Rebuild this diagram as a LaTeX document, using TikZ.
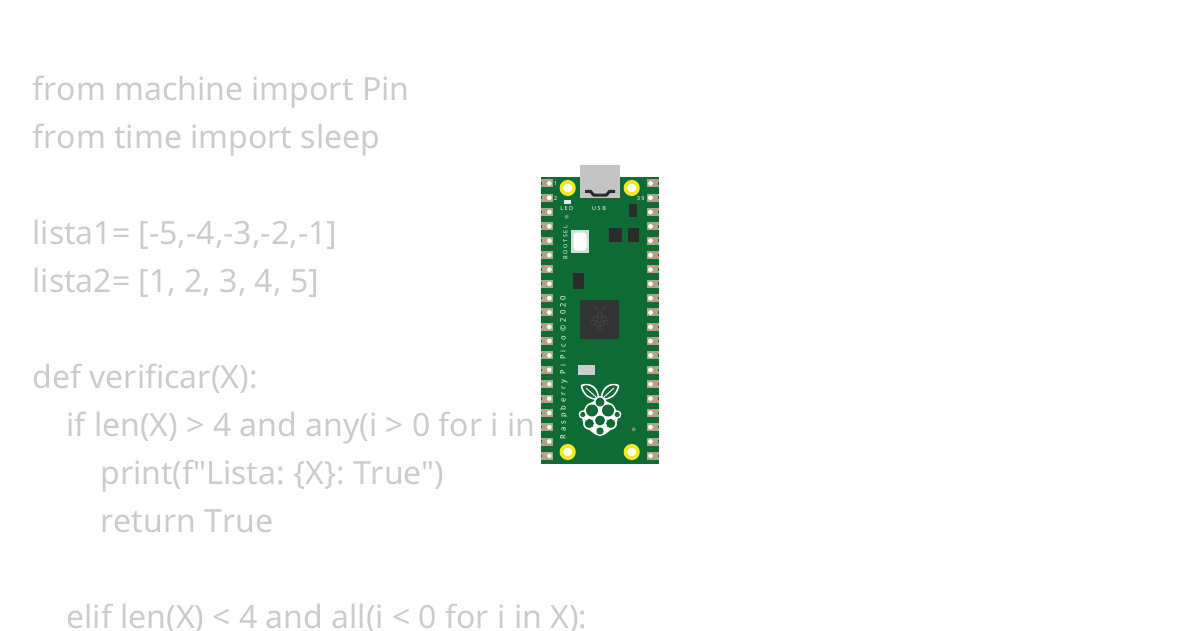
\documentclass[tikz,border=0pt]{standalone}
\usepackage{fontspec}
\setmainfont{Noto Sans}[Ligatures=TeXOff,Kerning=Off]
\definecolor{codegray}{HTML}{CCCCCC}
\definecolor{pcb}{HTML}{0E6B36}
\definecolor{pad}{HTML}{AFA286}
\definecolor{chipdark}{HTML}{2B2B2B}
\definecolor{cpu}{HTML}{333333}
\definecolor{cpulogo}{HTML}{444444}
\definecolor{usbgray}{HTML}{C4C4C4}
\definecolor{testdot}{HTML}{7A8A70}
\definecolor{ringyellow}{HTML}{F2E81E}
\tikzset{
  codeline/.style={anchor=base west,inner sep=0pt,text=codegray,font=\fontsize{32}{32}\selectfont},
  silk/.style={text=white,inner sep=0pt,font=\fontsize{5.5}{5.5}\selectfont},
  chip/.style={fill=chipdark,draw=none},
  mount/.style={circle,fill=white,draw=ringyellow,line width=3.6pt,minimum size=12.5pt,inner sep=0pt},
  pinpad/.style={fill=pad,draw=none},
  leaf/.style={draw=white,line width=1.6pt,fill=pcb,line join=round},
  vein/.style={draw=white,line width=.9pt}
}
\begin{document}
\begin{tikzpicture}[x=1pt,y=-1pt]
\useasboundingbox (0,0) rectangle (1200,630);
\begin{scope}
\clip (0,0) rectangle (1200,630);
\node[codeline] (l1) at (32.3,100) {from machine import Pin};
\node[codeline] (l2) at (32.3,148) {from time import sleep};
\node[codeline] (l3) at (32.3,244) {lista1= [-5,-4,-3,-2,-1]};
\node[codeline] (l4) at (32.3,292) {lista2= [1, 2, 3, 4, 5]};
\node[codeline] (l5) at (32.3,388) {def verificar(X):};
\node[codeline] (l6) at (66.3,436) {if len(X) > 4 and any(i > 0 for i in};
\node[codeline] (l7) at (100.3,484) {print(f"Lista: \kern-3pt\symbol{123}X\symbol{125}: True")};
\node[codeline] (l8) at (100.3,532) {return True};
\node[codeline] (l9) at (66.3,628) {elif len(X) < 4 and all(i < 0 for i in X):};
\end{scope}
% board
\fill[pcb] (540.5,176.5) rectangle (659,464);
% pins
\foreach \i in {0,...,19}{
  \pgfmathsetmacro{\yy}{183.4+14.34*\i}
  \fill[pinpad] (541,\yy-4) rectangle (553,\yy+4);
  \fill[pinpad] (647,\yy-4) rectangle (659,\yy+4);
  \fill[white] (549.3,\yy) circle (2.4);
  \fill[white] (650.5,\yy) circle (2.4);
  \fill[pcb] (540.5,\yy-1.3) rectangle (542,\yy+1.3);
  \fill[pcb] (657.5,\yy-1.3) rectangle (659,\yy+1.3);
}
% USB
\path[fill=usbgray] (580,165) -- (620,165) -- (620,198) -- (580,198) -- cycle;
\draw[chipdark,line width=3pt,line join=round] (585,191.3) -- (590.5,191.3) -- (593.5,195) -- (606.5,195) -- (609.5,191.3) -- (615,191.3);
% mounting holes
\node[mount] (m1) at (567.7,188) {};
\node[mount] (m2) at (631.7,188) {};
\node[mount] (m3) at (567.7,452) {};
\node[mount] (m4) at (631.7,452) {};
% silk labels
\node[silk] (n1) at (555.7,184) {1};
\node[silk] (n2) at (555.7,198.3) {2};
\node[silk] (n39) at (640.7,198.3) {\addfontfeature{LetterSpace=25}39};
\node[silk] (led) at (566.7,208.7) {\addfontfeature{LetterSpace=25}LED};
\node[silk] (usb) at (599,208.7) {\addfontfeature{LetterSpace=30}USB};
\node[silk,rotate=90] (boot) at (565.3,242.7) {\addfontfeature{LetterSpace=30}BOOTSEL};
\node[silk,rotate=90,font=\fontsize{7.5}{7.5}\selectfont] (brand) at (563.7,367.5) {\addfontfeature{LetterSpace=40}Raspberry Pi Pico ©2020};
% LED and dots
\fill[white!85!pcb] (564,200) rectangle (571,204);
\fill[testdot] (566.7,216.7) circle (2);
\fill[testdot] (633.7,429.3) circle (2);
% chips
\fill[chip] (629.3,204.3) rectangle (637.3,217.3);
\fill[chip] (609,228.3) rectangle (622.3,242);
\fill[chip] (628,228.3) rectangle (638.7,242);
\fill[chip] (572.7,272.7) rectangle (584,289.3);
% BOOTSEL button
\fill[white!80!pcb] (571.3,230) rectangle (588.7,252.7);
\fill[white,rounded corners=3pt] (573.5,232.5) rectangle (586.5,250.5);
% RP2040
\fill[cpu] (580,300) rectangle (619.3,339.3);
\begin{scope}[shift={(599.7,319.5)},cpulogo,line width=.7pt]
  \foreach \cx/\cy in {0/-5,-4/-1,4/-1,-6/3,6/3,-2.6/4,2.6/4,0/9}{
    \draw (\cx,\cy) circle (2.4);
  }
  \draw (-1,-9) -- (-6,-13) (1,-9) -- (6,-13);
\end{scope}
% crystal / grey part
\fill[codegray] (578.3,364.7) rectangle (595,375.3);
% logo leaves
\draw[leaf] (598.5,399) .. controls (590,400) and (582.5,394) .. (581.5,385.5) .. controls (590,382) and (598.5,388) .. cycle;
\draw[leaf] (601.5,399) .. controls (610,400) and (617.5,394) .. (618.5,385.5) .. controls (610,382) and (601.5,388) .. cycle;
\draw[vein] (586,388) -- (596,397);
\draw[vein] (614,388) -- (604,397);
% logo berry
\fill[white] (600,398) -- (612,404) -- (619,414) -- (616,426) -- (604,435) -- (596,435) -- (584,426) -- (581,414) -- (588,404) -- cycle;
\foreach \cx/\cy/\r in {600/402/4.5,592/410.5/6,608/410.5/6,582.8/414.5/2.6,617.2/414.5/2.6,600/420.5/5,589.3/423.5/4.6,610.7/423.5/4.6,600/431/3.6}{
  \fill[white] (\cx,\cy) circle (\r+1.6);
}
\foreach \cx/\cy/\r in {600/402/4.5,592/410.5/6,608/410.5/6,582.8/414.5/2.6,617.2/414.5/2.6,600/420.5/5,589.3/423.5/4.6,610.7/423.5/4.6,600/431/3.6}{
  \fill[pcb] (\cx,\cy) circle (\r);
}
\end{tikzpicture}
\end{document}
